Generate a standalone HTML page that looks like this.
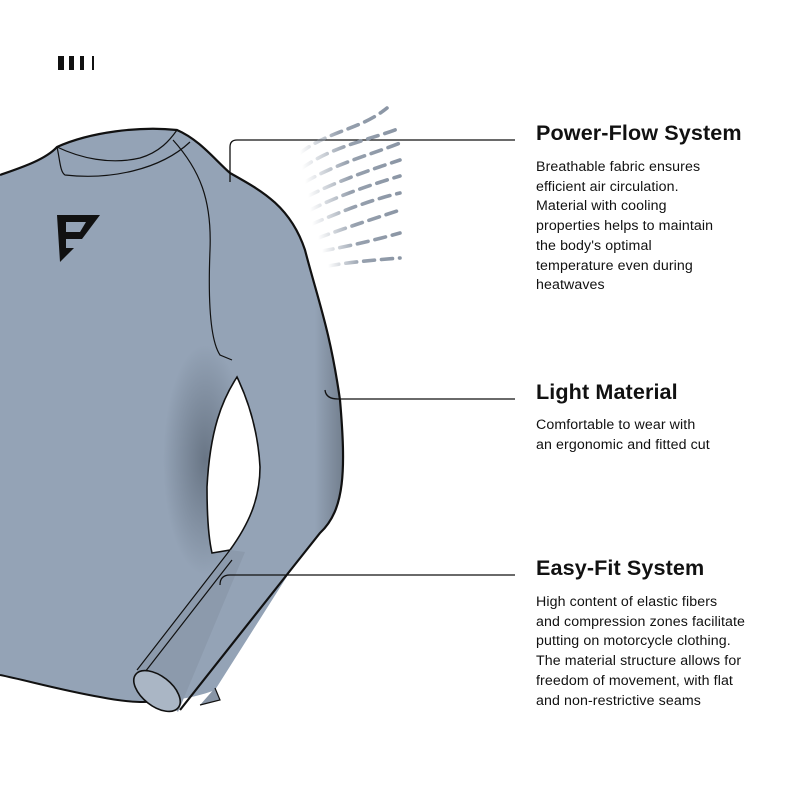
<!DOCTYPE html>
<html><head><meta charset="utf-8"><style>
body{margin:0;width:800px;height:800px;background:#fff;overflow:hidden;position:relative;font-family:"Liberation Sans",sans-serif;color:#111}
svg{position:absolute;left:0;top:0}
h2{position:absolute;left:536px;margin:0;font-size:21.6px;font-weight:bold;letter-spacing:0.1px}
p{position:absolute;left:536px;margin:0;font-size:14.2px;line-height:19.7px;letter-spacing:0.1px}
</style></head><body>
<svg width="800" height="800" viewBox="0 0 800 800">
<defs>
<linearGradient id="arm" x1="0" y1="0" x2="1" y2="0">
<stop offset="0" stop-color="#94a3b6"/><stop offset="0.75" stop-color="#94a3b6"/><stop offset="1" stop-color="#6f7b8a"/></linearGradient>
<linearGradient id="fade" x1="0" y1="0" x2="1" y2="0">
<stop offset="0" stop-color="#8b96a5" stop-opacity="0"/><stop offset="0.45" stop-color="#8b96a5" stop-opacity="0.9"/><stop offset="1" stop-color="#8b96a5"/></linearGradient>
<radialGradient id="sh" cx="0.5" cy="0.5" r="0.5"><stop offset="0" stop-color="#5e6a79" stop-opacity="0.8"/><stop offset="1" stop-color="#5e6a79" stop-opacity="0"/></radialGradient>
</defs>
<rect x="58" y="56" width="6" height="14" fill="#111"/><rect x="69" y="56" width="5" height="14" fill="#111"/><rect x="80" y="56" width="4" height="14" fill="#111"/><rect x="92" y="56" width="2" height="14" fill="#111"/>
<path d="M0,175 C20,168 45,160 57,147 C90,132 140,126 177,130 C200,140 215,160 230,173 C260,190 290,205 305,250 C318,300 330,330 340,400 C346,470 345,510 320,533 L293,567 L215,690 C190,700 150,706 100,697 C60,690 25,680 0,675 Z" fill="#94a3b6"/>
<path d="M230,173 C260,190 290,205 305,250 C318,300 330,330 340,400 C346,470 345,510 320,533 L293,567 L280,560 C300,520 320,480 315,400 C305,300 290,230 230,173Z" fill="url(#arm)" opacity="0.9"/>
<ellipse cx="205" cy="460" rx="42" ry="115" fill="url(#sh)"/>
<path d="M237,377 C222,400 210,430 207,487 C207,520 209,540 212,553 L230,550 C248,525 260,500 260,467 C258,430 248,400 237,377Z" fill="#fff" stroke="#111" stroke-width="1.6"/>
<path d="M0,175 C20,168 45,160 57,147 C90,132 140,126 177,130 C200,140 215,160 230,173 C260,190 290,205 305,250 C318,300 330,330 340,400 C346,470 345,510 320,533 L293,567 L180,710" fill="none" stroke="#111" stroke-width="2.2"/>
<path d="M0,675 C25,680 60,690 100,697 C130,703 150,703 160,700" fill="none" stroke="#111" stroke-width="2"/>
<path d="M215,688 L220,700 L200,705" fill="#8895a6" stroke="#111" stroke-width="1.2"/>
<path d="M137,670 L230,550 L245,552 L178,712 Z" fill="#8c9aac"/>
<path d="M137,670 L230,550 M145,672 L232,560" stroke="#111" stroke-width="1.2" fill="none"/>
<ellipse cx="157" cy="691" rx="27" ry="15" transform="rotate(38 157 691)" fill="#aab6c5" stroke="#111" stroke-width="1.6"/>
<path d="M57,147 C60,160 60,172 65,175 C110,180 160,170 190,142" fill="none" stroke="#111" stroke-width="1.2"/>
<path d="M57,147 C80,158 110,165 140,158 C160,152 170,140 177,130" fill="none" stroke="#111" stroke-width="1.2"/>
<path d="M173,140 C200,170 212,200 210,250 C208,300 210,340 220,355 L232,360" fill="none" stroke="#111" stroke-width="1.2"/>
<path d="M57,215 L100,215 L82,239 L66,239 L66,248 L74,248 L60,262 Z" fill="#111"/>
<path d="M66,222 L86,222 L80,232 L66,232Z" fill="#94a3b6"/>
<path d="M230,182 L230,147 Q230,140 237,140 L515,140" fill="none" stroke="#111" stroke-width="1.3"/>
<path d="M325,390 Q326,399 338,399 L515,399" fill="none" stroke="#111" stroke-width="1.3"/>
<path d="M220,585 Q220,575 230,575 L515,575" fill="none" stroke="#111" stroke-width="1.3"/>
<g fill="none" stroke="url(#fade)" stroke-width="3.6" stroke-dasharray="11 7" stroke-linecap="round">
<path d="M300,153 C330,130 360,130 387,108"/>
<path d="M302,168 C335,145 370,140 400,128"/>
<path d="M305,182 C340,162 370,155 400,143"/>
<path d="M308,196 C340,180 370,170 400,160"/>
<path d="M310,210 C340,195 370,185 400,176"/>
<path d="M312,224 C340,212 370,200 400,193"/>
<path d="M318,238 C345,228 370,220 400,210"/>
<path d="M322,251 C350,246 375,240 400,233"/>
<path d="M328,266 C350,262 375,260 400,258"/>
</g>
</svg>
<h2 style="top:120px">Power-Flow System</h2>
<p style="top:158px">Breathable fabric ensures<br>efficient air circulation.<br>Material with cooling<br>properties helps to maintain<br>the body's optimal<br>temperature even during<br>heatwaves</p>
<h2 style="top:379px">Light Material</h2>
<p style="top:416px">Comfortable to wear with<br>an ergonomic and fitted cut</p>
<h2 style="top:555px">Easy-Fit System</h2>
<p style="top:593px">High content of elastic fibers<br>and compression zones facilitate<br>putting on motorcycle clothing.<br>The material structure allows for<br>freedom of movement, with flat<br>and non-restrictive seams</p>
</body></html>
